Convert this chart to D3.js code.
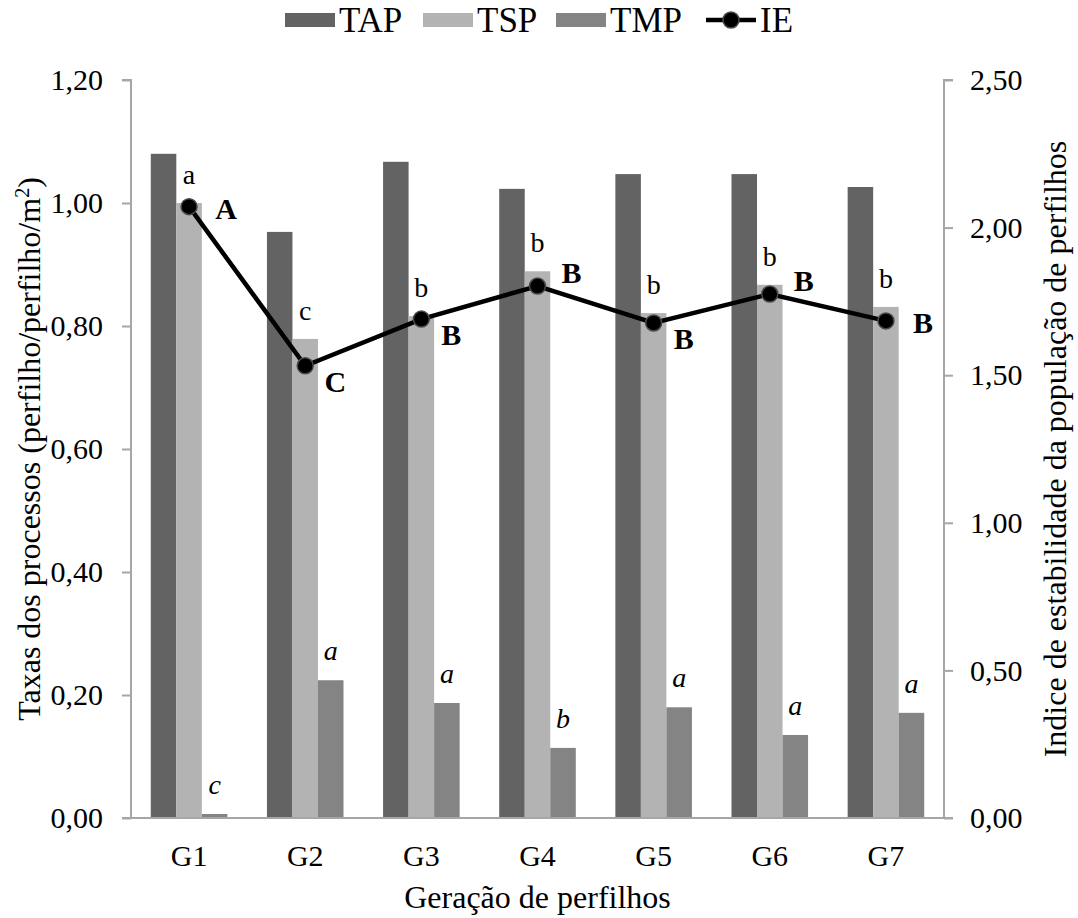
<!DOCTYPE html>
<html>
<head>
<meta charset="utf-8">
<script src="https://cdn.jsdelivr.net/npm/d3@7"></script>
<style>
  body { margin: 0; background: #fff; }
  text { font-family: 'Liberation Serif', 'Times New Roman', serif; fill: #000; }
</style>
</head>
<body>
<div id="chart"></div>
<script>
const generations = ['G1', 'G2', 'G3', 'G4', 'G5', 'G6', 'G7'];
const series = ['TAP', 'TSP', 'TMP'];
const tap = [1.080, 0.953, 1.067, 1.023, 1.047, 1.047, 1.026];
const tsp = [1.000, 0.779, 0.816, 0.889, 0.821, 0.867, 0.831];
const tmp = [0.0065, 0.224, 0.187, 0.114, 0.180, 0.135, 0.171];
const ie = [2.071, 1.532, 1.690, 1.802, 1.677, 1.775, 1.684];
const tspLetters = ['a', 'c', 'b', 'b', 'b', 'b', 'b'];
const tmpLetters = ['c', 'a', 'a', 'b', 'a', 'a', 'a'];
const ieLetters = ['A', 'C', 'B', 'B', 'B', 'B', 'B'];
const leftTicks = [0, 0.2, 0.4, 0.6, 0.8, 1.0, 1.2];
const rightTicks = [0, 0.5, 1.0, 1.5, 2.0, 2.5];

const colors = { TAP: '#636363', TSP: '#b3b3b3', TMP: '#848484' };
const axisColor = '#a6a6a6';
const fmt = (v) => d3.format('.2f')(v).replace('.', ',');

const width = 1078;
const height = 918;
const margin = { top: 80, right: 134, bottom: 100, left: 131 };
const plotW = width - margin.left - margin.right;
const plotH = height - margin.top - margin.bottom;

const svg = d3
  .select('#chart')
  .append('svg')
  .attr('width', width)
  .attr('height', height);

const g = svg
  .append('g')
  .attr('transform', `translate(${margin.left}, ${margin.top})`);

const x = d3.scaleBand().domain(generations).range([0, plotW]);
const xSub = d3
  .scaleBand()
  .domain(series)
  .range([0, x.bandwidth()])
  .paddingOuter(0.775);
const yLeft = d3.scaleLinear().domain([0, 1.2]).range([plotH, 0]);
const yRight = d3.scaleLinear().domain([0, 2.5]).range([plotH, 0]);

const rows = generations.map((gen, i) => ({
  gen,
  TAP: tap[i],
  TSP: tsp[i],
  TMP: tmp[i],
  ie: ie[i],
  tspLetter: tspLetters[i],
  tmpLetter: tmpLetters[i],
  ieLetter: ieLetters[i]
}));

// bars
const groups = g
  .selectAll('.group')
  .data(rows)
  .enter()
  .append('g')
  .attr('class', 'group')
  .attr('transform', (d) => `translate(${x(d.gen)}, 0)`);

groups
  .selectAll('rect')
  .data((d) => series.map((s) => ({ s, v: d[s] })))
  .enter()
  .append('rect')
  .attr('x', (d) => xSub(d.s))
  .attr('y', (d) => yLeft(d.v))
  .attr('width', xSub.bandwidth())
  .attr('height', (d) => plotH - yLeft(d.v))
  .attr('fill', (d) => colors[d.s]);

// letters over TSP and TMP bars
groups
  .append('text')
  .attr('x', xSub('TSP') + xSub.bandwidth() / 2)
  .attr('y', (d) => yLeft(d.TSP) - 19)
  .attr('text-anchor', 'middle')
  .attr('font-size', 28)
  .text((d) => d.tspLetter);

groups
  .append('text')
  .attr('x', xSub('TMP') + xSub.bandwidth() / 2)
  .attr('y', (d) => yLeft(d.TMP) - 20)
  .attr('text-anchor', 'middle')
  .attr('font-size', 28)
  .attr('font-style', 'italic')
  .text((d) => d.tmpLetter);

// axes
const leftAxis = g
  .append('g')
  .call(d3.axisLeft(yLeft).tickValues(leftTicks).tickFormat(fmt).tickSize(9).tickPadding(19));
const rightAxis = g
  .append('g')
  .attr('transform', `translate(${plotW}, 0)`)
  .call(d3.axisRight(yRight).tickValues(rightTicks).tickFormat(fmt).tickSize(9).tickPadding(17));
const bottomAxis = g
  .append('g')
  .attr('transform', `translate(0, ${plotH})`)
  .call(d3.axisBottom(x).tickSize(0).tickPadding(27));

[leftAxis, rightAxis, bottomAxis].forEach((a) => {
  a.selectAll('path').attr('stroke', axisColor).attr('stroke-width', 2);
  a.selectAll('line').attr('stroke', axisColor).attr('stroke-width', 2);
  a.selectAll('text')
    .attr('font-size', 30)
    .attr('fill', '#000');
});
leftAxis.select('.domain').attr('d', `M-9,0H0V${plotH}H-9`);
rightAxis.select('.domain').attr('d', `M9,0H0V${plotH}H9`);
bottomAxis.select('.domain').attr('d', `M0,0H${plotW}`);

// IE line
const line = d3
  .line()
  .x((d) => x(d.gen) + x.bandwidth() / 2)
  .y((d) => yRight(d.ie));

g.append('path')
  .datum(rows)
  .attr('d', line)
  .attr('fill', 'none')
  .attr('stroke', '#000')
  .attr('stroke-width', 4.5);

g.selectAll('.marker')
  .data(rows)
  .enter()
  .append('circle')
  .attr('class', 'marker')
  .attr('cx', (d) => x(d.gen) + x.bandwidth() / 2)
  .attr('cy', (d) => yRight(d.ie))
  .attr('r', 8)
  .attr('fill', '#000')
  .attr('stroke', '#4a4a4a')
  .attr('stroke-width', 1.5);

// IE letters beside markers
const iePlace = ['right', 'below', 'below', 'above', 'below', 'above', 'right'];
const offsets = { right: [37, 12], below: [30, 26], above: [34, -3] };
g.selectAll('.ie-label')
  .data(rows)
  .enter()
  .append('text')
  .attr('class', 'ie-label')
  .attr('x', (d, i) => x(d.gen) + x.bandwidth() / 2 + offsets[iePlace[i]][0])
  .attr('y', (d, i) => yRight(d.ie) + offsets[iePlace[i]][1])
  .attr('text-anchor', 'middle')
  .attr('font-size', 30)
  .attr('font-weight', 'bold')
  .text((d) => d.ieLetter);

// axis titles
svg
  .append('text')
  .attr('transform', `translate(40, ${margin.top + plotH / 2}) rotate(-90)`)
  .attr('text-anchor', 'middle')
  .attr('font-size', 32)
  .html('Taxas dos processos (perfilho/perfilho/m<tspan dy="-11" font-size="20">2</tspan><tspan dy="11">)</tspan>');

svg
  .append('text')
  .attr('transform', `translate(1066, ${margin.top + plotH / 2}) rotate(-90)`)
  .attr('text-anchor', 'middle')
  .attr('font-size', 32)
  .text('Indice de estabilidade da população de perfilhos');

svg
  .append('text')
  .attr('x', margin.left + plotW / 2)
  .attr('y', 908)
  .attr('text-anchor', 'middle')
  .attr('font-size', 32)
  .text('Geração de perfilhos');

// legend
const legendItems = [
  { name: 'TAP', x: 285, type: 'bar' },
  { name: 'TSP', x: 423, type: 'bar' },
  { name: 'TMP', x: 556, type: 'bar' },
  { name: 'IE', x: 706, type: 'line' }
];
const legend = svg.append('g').attr('class', 'legend');
legendItems.forEach((item) => {
  const lg = legend.append('g').attr('transform', `translate(${item.x}, 20)`);
  if (item.type === 'bar') {
    lg.append('rect')
      .attr('x', 0)
      .attr('y', -7)
      .attr('width', 50)
      .attr('height', 14)
      .attr('fill', colors[item.name]);
  } else {
    lg.append('line')
      .attr('x1', 0)
      .attr('x2', 50)
      .attr('stroke', '#000')
      .attr('stroke-width', 4.5);
    lg.append('circle')
      .attr('cx', 25)
      .attr('r', 8)
      .attr('fill', '#000')
      .attr('stroke', '#4a4a4a')
      .attr('stroke-width', 1.5);
  }
  lg.append('text')
    .attr('x', 54)
    .attr('y', 12)
    .attr('font-size', 35)
    .text(item.name);
});
</script>
</body>
</html>
